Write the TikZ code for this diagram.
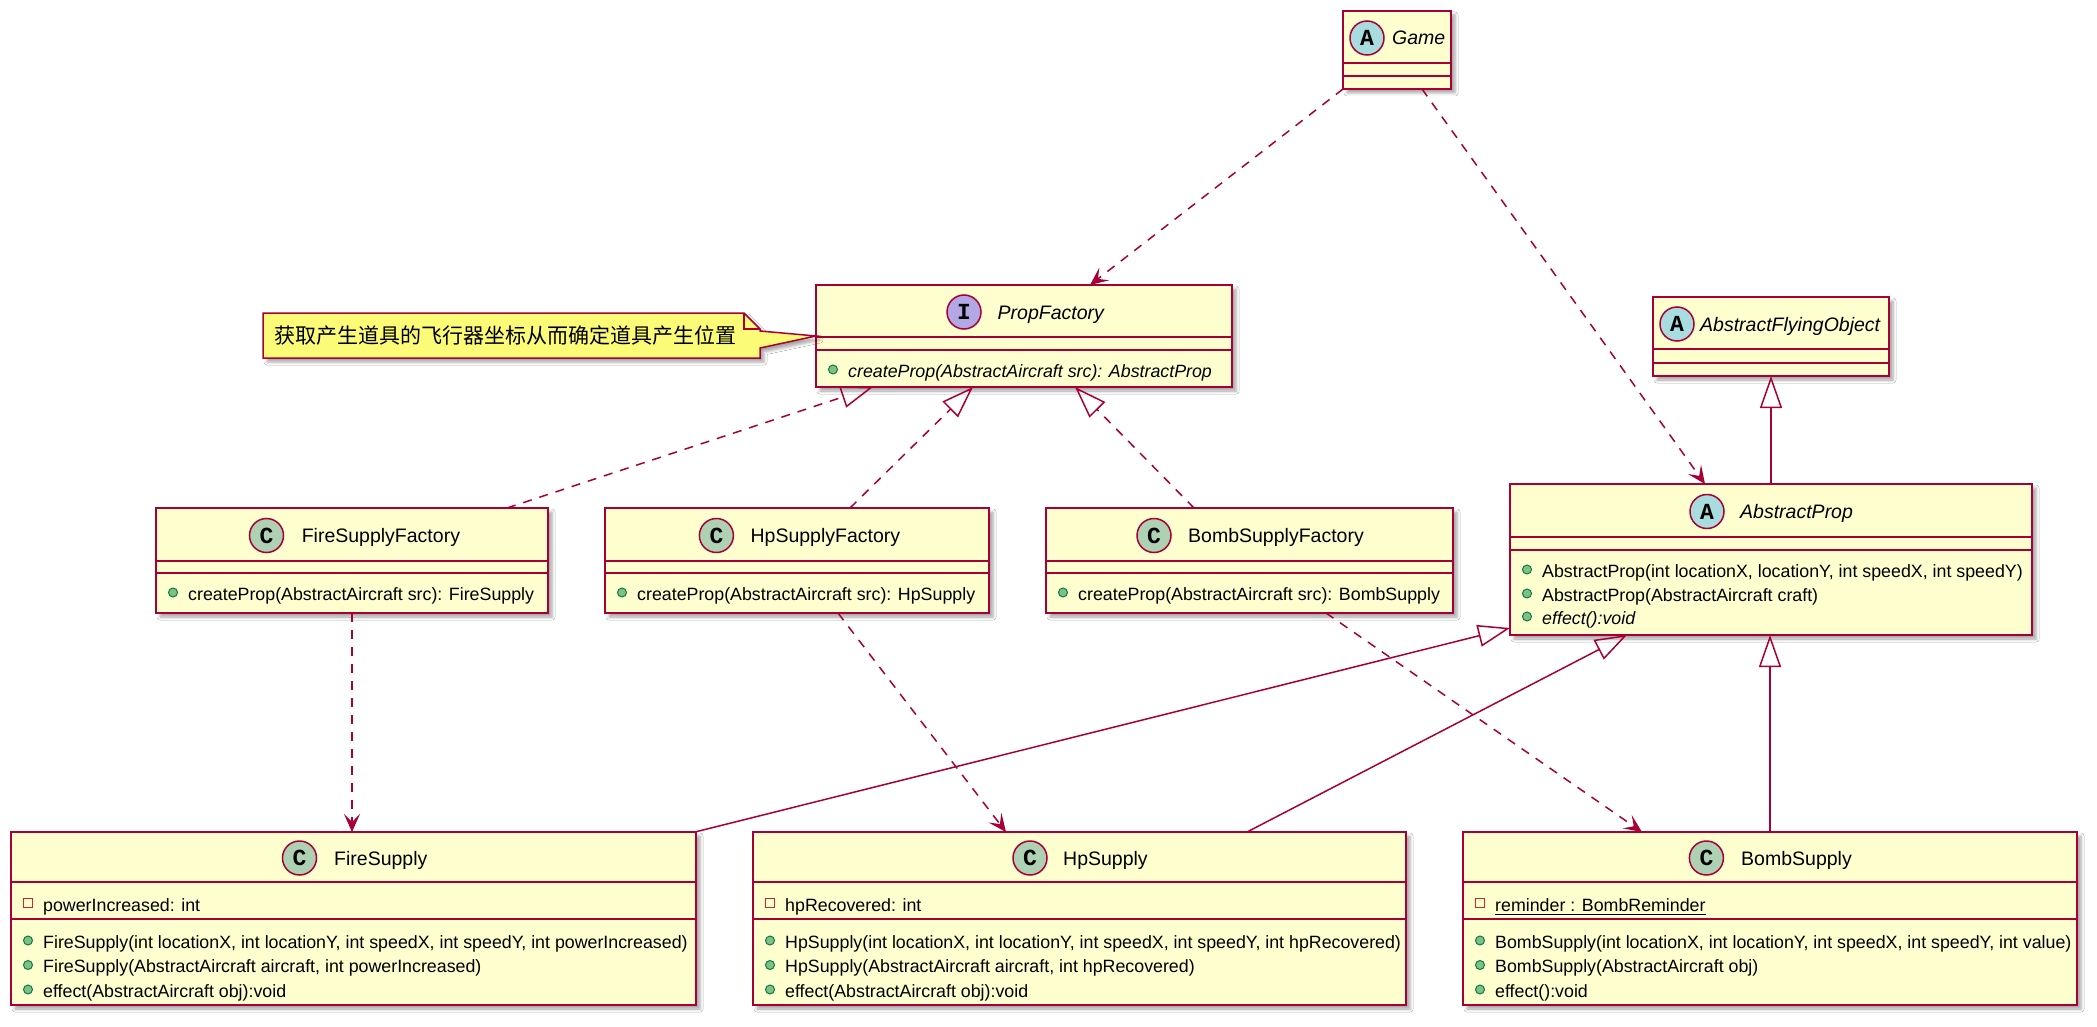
\documentclass[tikz,border=0pt]{standalone}
\usepackage{fontspec}
\setmainfont{Liberation Sans}
\newfontfamily\spotfam{Liberation Mono}
\newfontfamily\cjkfam{Noto Sans CJK SC}
\usetikzlibrary{arrows.meta,calc,shadows.blur}

\definecolor{umlred}{HTML}{A80036}
\definecolor{classbg}{HTML}{FEFECE}
\definecolor{notebg}{HTML}{FBFB77}
\definecolor{spotA}{HTML}{A9DCDF}
\definecolor{spotC}{HTML}{ADD1B2}
\definecolor{spotI}{HTML}{B4A7E5}
\definecolor{pubfill}{HTML}{84BE84}
\definecolor{publine}{HTML}{038048}
\definecolor{privline}{HTML}{C82930}

\newcommand\namefont{\fontsize{19.5}{22}\selectfont}
\newcommand\memfont{\fontsize{17.8}{20}\selectfont}
\newcommand\spotletter{\spotfam\bfseries\fontsize{23}{23}\selectfont}

\tikzset{
  softshadow/.style={blur shadow={shadow xshift=4pt, shadow yshift=-4pt,
      shadow blur radius=3pt, shadow opacity=35}},
  classbox/.style={draw=umlred, fill=classbg, line width=2pt, rectangle,
      inner sep=0pt, outer sep=0pt, anchor=north west, softshadow},
  sepline/.style={draw=umlred, line width=2pt},
  spot/.style={circle, draw=umlred, line width=1.5pt, minimum size=34pt,
      inner sep=0pt, font=\spotletter},
  cname/.style={font=\namefont, inner sep=0pt, anchor=base west},
  member/.style={font=\memfont, inner sep=0pt, anchor=base west},
  pub/.style={circle, draw=publine, fill=pubfill, line width=1pt,
      minimum size=9pt, inner sep=0pt},
  priv/.style={rectangle, draw=privline, line width=1pt,
      minimum size=9pt, inner sep=0pt},
  dep/.style={draw=umlred, line width=1.5pt, dash pattern=on 9pt off 8pt,
      -{Stealth[length=18pt, width=16pt, inset=8pt, fill=umlred]}},
  realize/.style={draw=umlred, line width=1.5pt, dash pattern=on 9pt off 8pt,
      -{Triangle[open, length=32pt, width=22pt]}},
  inherit/.style={draw=umlred, line width=1.5pt,
      -{Triangle[open, length=32pt, width=22pt]}},
}

% class frame: name, x1, y1, x2, y2, first separator y, second separator y
\newcommand\umlclass[7]{%
  \node[classbox, minimum width={(#4)-(#2)}, minimum height={(#5)-(#3)}] (#1) at (#2,#3) {};
  \draw[sepline] (#2,#6) -- (#4,#6);
  \draw[sepline] (#2,#7) -- (#4,#7);
}
% header: prefix, spot x, header centre y, letter, spot colour, name x, name
\newcommand\umlhead[7]{%
  \node[spot, fill=#5] (#1s) at (#2,{#3+1}) {#4};
  \node[cname] (#1n) at (#6,{#3+8}) {#7};
}
% public member: node name, box left x, baseline y, text
\newcommand\pubrow[4]{%
  \node[pub] (#1i) at ({#2+17},{#3-7.5}) {};
  \node[member] (#1) at ({#2+32},#3) {#4};
}
% private member: node name, box left x, baseline y, text
\newcommand\privrow[4]{%
  \node[priv] (#1i) at ({#2+17},{#3-8}) {};
  \node[member] (#1) at ({#2+32},#3) {#4};
}

\begin{document}
\begin{tikzpicture}[x=1pt, y=-1pt]
\useasboundingbox (0,0) rectangle (2097,1027);
\fill[white] (0,0) rectangle (2097,1027);

% ---------- Game
\umlclass{game}{1343}{11}{1451}{89}{63}{76}
\umlhead{game}{1367}{37}{A}{spotA}{1392}{\itshape Game}

% ---------- PropFactory
\umlclass{propf}{816}{285}{1232}{387}{337}{350}
\umlhead{propf}{964}{311}{I}{spotI}{997.5}{\itshape PropFactory}
\pubrow{propfm}{816}{377}{\itshape createProp(AbstractAircraft src): AbstractProp}

% ---------- note
\draw[draw=umlred, fill=notebg, line width=1.5pt, softshadow]
  (263,313) -- (744,313) -- (760,329) -- (760,331) -- (propf.west)
  -- (760,348) -- (760,358) -- (263,358) -- cycle;
\draw[draw=umlred, line width=1.5pt] (744,313) -- (744,329) -- (760,329);
\node[font=\cjkfam\fontsize{21}{22}\selectfont, inner sep=0pt, anchor=west] (note) at (274,336)
  {获取产生道具的飞行器坐标从而确定道具产生位置};

% ---------- AbstractFlyingObject
\umlclass{afo}{1653}{297}{1889}{376}{349}{363}
\umlhead{afo}{1677}{323}{A}{spotA}{1700}{\itshape AbstractFlyingObject}

% ---------- AbstractProp
\umlclass{aprop}{1510}{484}{2032}{635}{537}{550}
\umlhead{aprop}{1707}{510.5}{A}{spotA}{1740}{\itshape AbstractProp}
\pubrow{apropa}{1510}{577}{AbstractProp(int locationX, locationY, int speedX, int speedY)}
\pubrow{apropb}{1510}{601}{AbstractProp(AbstractAircraft craft)}
\pubrow{apropc}{1510}{624}{\itshape effect():void}

% ---------- factories
\umlclass{firef}{156}{508}{548}{613}{561}{573}
\umlhead{firef}{266.5}{534.5}{C}{spotC}{301.6}{FireSupplyFactory}
\pubrow{firefm}{156}{600}{createProp(AbstractAircraft src): FireSupply}

\umlclass{hpf}{605}{508}{989}{613}{561}{573}
\umlhead{hpf}{716.4}{534.5}{C}{spotC}{750.4}{HpSupplyFactory}
\pubrow{hpfm}{605}{600}{createProp(AbstractAircraft src): HpSupply}

\umlclass{bombf}{1046}{508}{1453}{613}{561}{573}
\umlhead{bombf}{1154}{534.5}{C}{spotC}{1188}{BombSupplyFactory}
\pubrow{bombfm}{1046}{600}{createProp(AbstractAircraft src): BombSupply}

% ---------- supplies
\umlclass{fire}{11}{832}{696}{1005}{882}{919}
\umlhead{fire}{299.5}{857}{C}{spotC}{334}{FireSupply}
\privrow{firea}{11}{911}{powerIncreased: int}
\pubrow{firem1}{11}{948}{FireSupply(int locationX, int locationY, int speedX, int speedY, int powerIncreased)}
\pubrow{firem2}{11}{972.5}{FireSupply(AbstractAircraft aircraft, int powerIncreased)}
\pubrow{firem3}{11}{997}{effect(AbstractAircraft obj):void}

\umlclass{hp}{753}{832}{1406}{1005}{882}{919}
\umlhead{hp}{1030}{857}{C}{spotC}{1063}{HpSupply}
\privrow{hpa}{753}{911}{hpRecovered: int}
\pubrow{hpm1}{753}{948}{HpSupply(int locationX, int locationY, int speedX, int speedY, int hpRecovered)}
\pubrow{hpm2}{753}{972.5}{HpSupply(AbstractAircraft aircraft, int hpRecovered)}
\pubrow{hpm3}{753}{997}{effect(AbstractAircraft obj):void}

\umlclass{bomb}{1463}{832}{2077}{1005}{882}{919}
\umlhead{bomb}{1706.4}{857}{C}{spotC}{1741}{BombSupply}
\privrow{bomba}{1463}{911}{reminder : BombReminder}
\draw[line width=1.2pt] ($(bomba.base west)+(0,3.5)$) -- ($(bomba.base east)+(0,3.5)$);
\pubrow{bombm1}{1463}{948}{BombSupply(int locationX, int locationY, int speedX, int speedY, int value)}
\pubrow{bombm2}{1463}{972.5}{BombSupply(AbstractAircraft obj)}
\pubrow{bombm3}{1463}{997}{effect():void}

% ---------- connectors
\draw[dep] (game.south west) -- ($(propf.north west)+(274,0)$);
\draw[dep] ($(game.south west)+(79,0)$) -- ($(aprop.north west)+(195,0)$);

\draw[realize] ($(firef.north west)+(351,0)$) -- ($(propf.south west)+(57,0)$);
\draw[realize] ($(hpf.north west)+(245,0)$) -- ($(propf.south west)+(157,0)$);
\draw[realize] ($(bombf.north west)+(148,0)$) -- ($(propf.south west)+(259,0)$);

\draw[inherit] (afo.south |- aprop.north) -- (afo.south);

\draw[dep] ($(firef.south west)+(196,0)$) -- ($(fire.north west)+(341,0)$);
\draw[dep] ($(hpf.south west)+(233,0)$) -- ($(hp.north west)+(253,0)$);
\draw[dep] ($(bombf.south west)+(280,0)$) -- ($(bomb.north west)+(179,0)$);

\draw[inherit] ($(fire.north west)+(684,0)$) -- ($(aprop.south west)+(0,-7)$);
\draw[inherit] ($(hp.north west)+(494,0)$) -- ($(aprop.south west)+(117,0)$);
\draw[inherit] ($(bomb.north west)+(307,0)$) -- ($(aprop.south west)+(260,0)$);
\end{tikzpicture}
\end{document}
